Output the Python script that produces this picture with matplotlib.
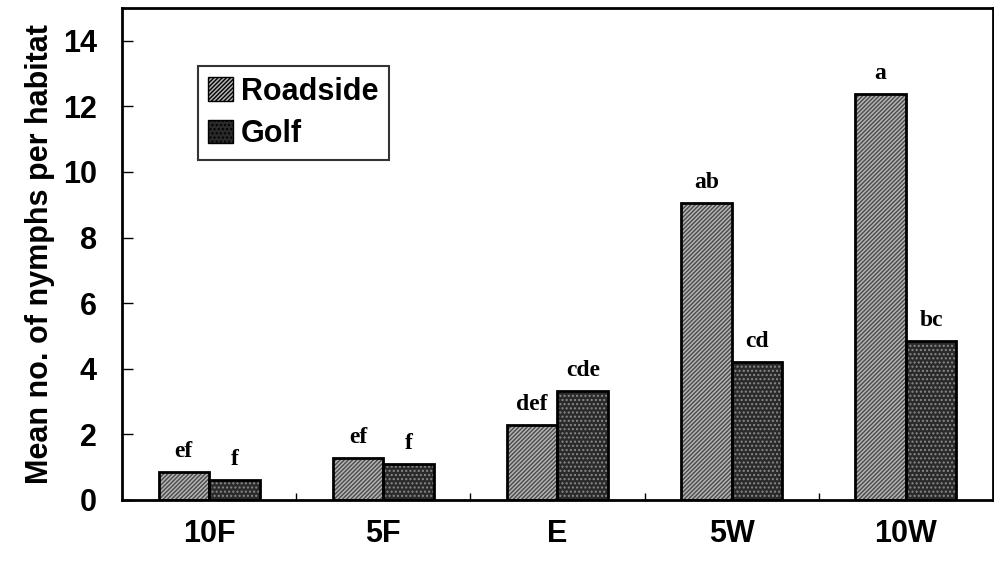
import matplotlib.pyplot as plt
import numpy as np
from matplotlib.patches import Patch

sites = ["10F", "5F", "E", "5W", "10W"]
roadside = [0.86, 1.28, 2.3, 9.05, 12.38]
golf = [0.6, 1.1, 3.33, 4.22, 4.86]
road_letters = ["ef", "ef", "def", "ab", "a"]
golf_letters = ["f", "f", "cde", "cd", "bc"]

fig = plt.figure(figsize=(9.95, 5.64), dpi=100)
ax = fig.add_axes([0.1226, 0.1135, 0.8754, 0.8725])

x = np.arange(len(sites))
w = 0.29

# fill + hatch first, then black outline on top
ax.bar(x - w/2, roadside, w, color="#b4b4b4", edgecolor="#4a4a4a", hatch="////////", linewidth=0)
ax.bar(x + w/2, golf, w, color="#2a2a2a", edgecolor="#8a8a8a", hatch="....", linewidth=0)
ax.bar(x - w/2, roadside, w, fill=False, edgecolor="black", linewidth=2)
ax.bar(x + w/2, golf, w, fill=False, edgecolor="black", linewidth=2)

for i in range(len(sites)):
    ax.text(x[i] - w/2, roadside[i] + 0.3, road_letters[i], ha="center", va="bottom",
            family="Liberation Serif", fontweight="bold", fontsize=17)
    ax.text(x[i] + w/2, golf[i] + 0.3, golf_letters[i], ha="center", va="bottom",
            family="Liberation Serif", fontweight="bold", fontsize=17)

ax.set_xlim(-0.5, 4.5)
ax.set_ylim(0, 15)
ax.set_yticks(range(0, 15, 2))
ax.set_xticks(x)
ax.set_xticklabels(sites)
ax.set_xticks([0.5, 1.5, 2.5, 3.5], minor=True)
ax.tick_params(axis="x", which="major", length=0, pad=14)
ax.tick_params(axis="x", which="minor", direction="in", length=5, width=1)
ax.tick_params(axis="y", direction="in", length=8, width=1, pad=18)
for lab in ax.get_xticklabels() + ax.get_yticklabels():
    lab.set_family("Liberation Sans")
    lab.set_fontweight("bold")
    lab.set_fontsize(22)

ax.set_ylabel("Mean no. of nymphs per habitat", family="Liberation Sans",
              fontweight="bold", fontsize=22, labelpad=6)
for s in ax.spines.values():
    s.set_linewidth(2)

h1 = Patch(facecolor="#b4b4b4", edgecolor="black", hatch="////////")
h2 = Patch(facecolor="#2a2a2a", edgecolor="black", hatch="....")
leg = ax.legend([h1, h2], ["Roadside", "Golf"], loc="upper left",
                bbox_to_anchor=(0.087, 0.882), fancybox=False, edgecolor="black",
                handlelength=0.8, handleheight=0.8, handletextpad=0.25,
                prop={"family": "Liberation Sans", "weight": "bold", "size": 22},
                borderpad=0.35, labelspacing=0.4, borderaxespad=0)
leg.get_frame().set_linewidth(1.5)

fig.savefig("out.png", dpi=100)
